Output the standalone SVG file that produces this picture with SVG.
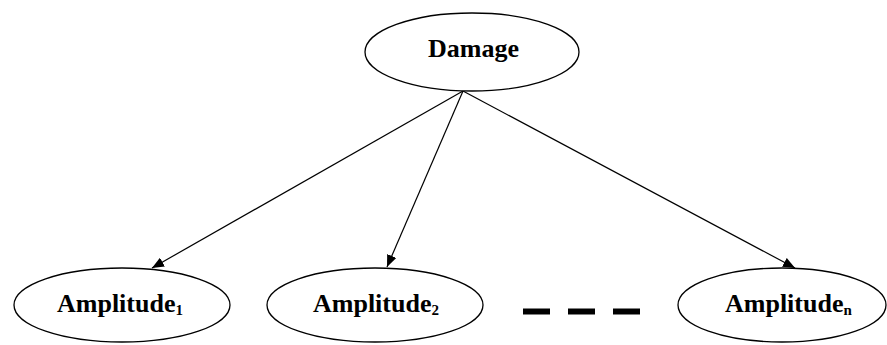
<svg xmlns="http://www.w3.org/2000/svg" width="887" height="345" viewBox="0 0 887 345">
  <style>
    .node ellipse { fill: #ffffff; stroke: #000000; stroke-width: 1.3; }
    .node text { font-family: "Liberation Serif", "Times New Roman", serif; font-weight: bold; font-size: 26px; fill: #000000; }
    .sub { font-size: 15px; }
    .edges line { stroke: #000000; stroke-width: 1.2; }
    .ellipsis line { stroke: #000000; stroke-width: 6; }
  </style>
  <defs>
    <marker id="arrow" viewBox="0 0 12 10" refX="12" refY="5" markerWidth="12" markerHeight="10" markerUnits="userSpaceOnUse" orient="auto">
      <path d="M0,0 L12,5 L0,10 Z" fill="#000000"/>
    </marker>
  </defs>
  <rect width="887" height="345" fill="#ffffff"/>

  <!-- connectors from the top node down to each amplitude node -->
  <g class="edges">
    <line x1="463" y1="91" x2="152" y2="268" marker-end="url(#arrow)"/>
    <line x1="463" y1="91" x2="387" y2="267" marker-end="url(#arrow)"/>
    <line x1="463" y1="91" x2="795" y2="268" marker-end="url(#arrow)"/>
  </g>

  <g id="damage" class="node">
    <ellipse cx="472" cy="52" rx="107" ry="39"/>
    <text x="428" y="57">Damage</text>
  </g>

  <g id="amplitude1" class="node">
    <ellipse cx="122" cy="305" rx="108" ry="37"/>
    <text x="57" y="312">Amplitude<tspan class="sub" dy="3">1</tspan></text>
  </g>

  <g id="amplitude2" class="node">
    <ellipse cx="375" cy="305" rx="108" ry="37"/>
    <text x="313" y="312">Amplitude<tspan class="sub" dy="3">2</tspan></text>
  </g>

  <g id="amplituden" class="node">
    <ellipse cx="782" cy="305" rx="104" ry="37"/>
    <text x="725" y="312">Amplitude<tspan class="sub" dy="3">n</tspan></text>
  </g>

  <!-- dashed ellipsis between the second and last amplitude nodes -->
  <g class="ellipsis">
    <line x1="523" y1="311.5" x2="550" y2="311.5"/>
    <line x1="568" y1="311.5" x2="595" y2="311.5"/>
    <line x1="613" y1="311.5" x2="640" y2="311.5"/>
  </g>
</svg>
